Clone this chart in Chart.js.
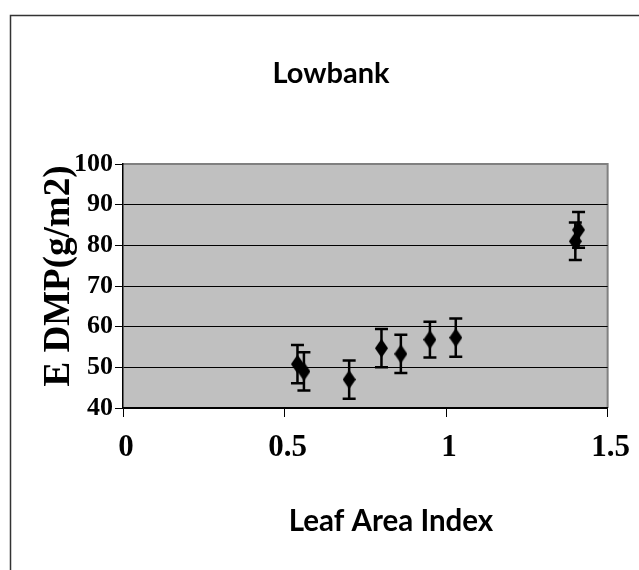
<!DOCTYPE html>
<html>
<head>
<meta charset="utf-8">
<script src="https://cdn.jsdelivr.net/npm/chart.js@4"></script>
<style>
  html, body { margin: 0; padding: 0; background: #fff; }
  #wrap { width: 639px; height: 570px; }
</style>
</head>
<body>
<div id="wrap"><canvas id="laiChart" width="639" height="570"></canvas></div>
<script>
// leaf area index vs estimated dry matter production
const lai = [0.54, 0.56, 0.70, 0.80, 0.86, 0.95, 1.03, 1.40, 1.41];
const dmp = [50.8, 49.0, 47.0, 54.7, 53.3, 56.8, 57.3, 81.0, 83.8];
const dmpErr = [4.7, 4.7, 4.7, 4.7, 4.7, 4.4, 4.7, 4.6, 4.4];
const xTicks = [0, 0.5, 1, 1.5];
const yTicks = [40, 50, 60, 70, 80, 90, 100];

const chartTitle = 'Lowbank';
const xTitle = 'Leaf Area Index';
const yTitle = 'E DMP(g/m2)';

// tall black diamond marker
const diamond = document.createElement('canvas');
diamond.width = 13;
diamond.height = 19;
(function () {
    const c = diamond.getContext('2d');
    c.fillStyle = '#000';
    c.beginPath();
    c.moveTo(6.5, 0);
    c.lineTo(13, 9.5);
    c.lineTo(6.5, 19);
    c.lineTo(0, 9.5);
    c.closePath();
    c.fill();
})();

const framePlugin = {
    id: 'frame',
    beforeDraw(chart) {
        const ctx = chart.ctx;
        const a = chart.chartArea;
        ctx.save();
        ctx.fillStyle = '#fff';
        ctx.fillRect(0, 0, chart.width, chart.height);
        ctx.strokeStyle = '#333';
        ctx.lineWidth = 1.5;
        ctx.strokeRect(10.5, 15.5, 700, 700);
        ctx.fillStyle = '#c0c0c0';
        ctx.fillRect(a.left, a.top, a.right - a.left, a.bottom - a.top);
        ctx.strokeStyle = '#808080';
        ctx.lineWidth = 2;
        ctx.beginPath();
        ctx.moveTo(a.left, a.top);
        ctx.lineTo(a.right, a.top);
        ctx.lineTo(a.right, a.bottom);
        ctx.stroke();
        ctx.restore();
    },
    afterDraw(chart) {
        // titles sit off-centre, so they are placed by hand
        const ctx = chart.ctx;
        ctx.save();
        ctx.fillStyle = '#000';
        ctx.textAlign = 'center';
        ctx.textBaseline = 'alphabetic';
        ctx.font = 'bold 29px Lato';
        ctx.fillText(chartTitle, 331, 83);
        ctx.font = 'bold 29.5px Lato';
        ctx.fillText(xTitle, 391, 531);
        ctx.font = 'bold 37px "Liberation Serif"';
        ctx.translate(69, 276);
        ctx.rotate(-Math.PI / 2);
        ctx.fillText(yTitle, 0, 0);
        ctx.restore();
    }
};

const errorBars = {
    id: 'errorBars',
    beforeDatasetsDraw(chart) {
        const ctx = chart.ctx;
        const xs = chart.scales.x, ys = chart.scales.y;
        ctx.save();
        ctx.strokeStyle = '#000';
        ctx.lineWidth = 2.5;
        lai.forEach((v, i) => {
            const px = xs.getPixelForValue(v);
            const top = ys.getPixelForValue(dmp[i] + dmpErr[i]);
            const bot = ys.getPixelForValue(dmp[i] - dmpErr[i]);
            ctx.beginPath();
            ctx.moveTo(px, top);
            ctx.lineTo(px, bot);
            ctx.moveTo(px - 6.5, top);
            ctx.lineTo(px + 6.5, top);
            ctx.moveTo(px - 6.5, bot);
            ctx.lineTo(px + 6.5, bot);
            ctx.stroke();
        });
        ctx.restore();
    }
};

new Chart(document.getElementById('laiChart'), {
    type: 'scatter',
    data: {
        datasets: [{
            data: lai.map((x, i) => ({x: x, y: dmp[i]})),
            pointStyle: diamond,
            pointRadius: 10,
            pointHoverRadius: 10
        }]
    },
    options: {
        responsive: false,
        animation: false,
        layout: { padding: { left: 10, right: 21, top: 164, bottom: 0 } },
        plugins: {
            legend: { display: false },
            tooltip: { enabled: false },
            title: { display: false }
        },
        scales: {
            x: {
                type: 'linear',
                min: 0,
                max: 1.5,
                afterBuildTicks: s => { s.ticks = xTicks.map(v => ({value: v})); },
                afterFit: s => { s.height = 162; },
                ticks: {
                    color: '#000',
                    padding: 12,
                    labelOffset: 3,
                    maxRotation: 0,
                    callback: v => String(v),
                    font: { family: 'Liberation Serif', weight: 'bold', size: 31 }
                },
                grid: { drawOnChartArea: false, tickLength: 9, tickColor: '#000', tickWidth: 1 },
                border: { color: '#000', width: 1.5 }
            },
            y: {
                min: 40,
                max: 100,
                afterBuildTicks: s => { s.ticks = yTicks.map(v => ({value: v})); },
                afterFit: s => { s.width = 113; },
                ticks: {
                    color: '#000',
                    padding: 2,
                    font: { family: 'Liberation Serif', weight: 'bold', size: 26 }
                },
                grid: {
                    color: c => (c.tick && c.tick.value === 100) ? '#808080' : '#000',
                    lineWidth: 1,
                    tickLength: 8,
                    tickColor: '#000'
                },
                border: { color: '#000', width: 1.5 }
            }
        }
    },
    plugins: [framePlugin, errorBars]
});
</script>
</body>
</html>
